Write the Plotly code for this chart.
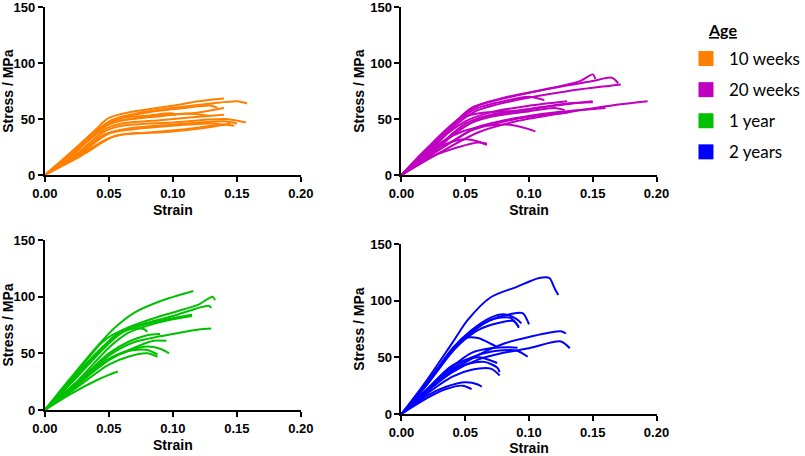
import plotly.graph_objects as go

# Stress-strain curves per age group: one list of knots per specimen
wk10_strain = [
    [0, 0.02, 0.04, 0.05, 0.07, 0.10, 0.12, 0.14],
    [0, 0.02, 0.04, 0.052, 0.075, 0.10, 0.13, 0.15, 0.158],
    [0, 0.02, 0.042, 0.055, 0.08, 0.11, 0.13, 0.135],
    [0, 0.02, 0.045, 0.06, 0.085, 0.11, 0.128],
    [0, 0.02, 0.045, 0.06, 0.08, 0.10, 0.102],
    [0, 0.022, 0.045, 0.06, 0.10, 0.14, 0.157],
    [0, 0.022, 0.046, 0.062, 0.10, 0.14, 0.15],
    [0, 0.025, 0.05, 0.07, 0.10, 0.13, 0.148],
    [0, 0.028, 0.055, 0.08, 0.11, 0.13, 0.14],
    [0, 0.03, 0.05, 0.06, 0.10, 0.13, 0.145],
    [0, 0.02, 0.04, 0.05, 0.08, 0.12, 0.14],
    [0, 0.02, 0.045, 0.06, 0.09, 0.12, 0.14],
]
wk10_stress = [
    [0, 19, 41, 51, 57, 62, 66, 68.5],
    [0, 18, 39, 49, 56, 60, 64, 66, 64],
    [0, 17, 40, 50, 56, 60, 62, 60],
    [0, 16, 42, 49, 52, 55, 53],
    [0, 17, 43, 51, 53, 55, 53],
    [0, 16, 38, 44, 47, 50, 47],
    [0, 15, 36, 41, 45, 48, 46],
    [0, 17, 37, 41, 44, 46, 44],
    [0, 17, 35, 38, 41, 44, 45],
    [0, 20, 33, 36, 39, 43, 46],
    [0, 20, 40, 46, 52, 56, 60],
    [0, 18, 40, 46, 49, 52, 54],
]

wk20_strain = [
    [0, 0.02, 0.04, 0.055, 0.08, 0.11, 0.14, 0.15, 0.152],
    [0, 0.02, 0.045, 0.06, 0.09, 0.12, 0.15, 0.165, 0.17],
    [0, 0.02, 0.045, 0.06, 0.09, 0.13, 0.165, 0.172],
    [0, 0.02, 0.045, 0.06, 0.08, 0.10, 0.112],
    [0, 0.025, 0.05, 0.07, 0.10, 0.13, 0.15],
    [0, 0.025, 0.05, 0.07, 0.10, 0.12, 0.128],
    [0, 0.03, 0.06, 0.09, 0.13, 0.17, 0.193],
    [0, 0.03, 0.06, 0.09, 0.12, 0.16],
    [0, 0.02, 0.04, 0.06, 0.085, 0.10, 0.105],
    [0, 0.02, 0.035, 0.05, 0.06, 0.067],
    [0, 0.025, 0.045, 0.06, 0.067],
    [0, 0.02, 0.045, 0.06, 0.08, 0.10],
    [0, 0.03, 0.06, 0.09, 0.12, 0.15],
    [0, 0.02, 0.04, 0.055, 0.07, 0.10, 0.13],
    [0, 0.015, 0.03, 0.05, 0.07, 0.10, 0.13],
]
wk20_stress = [
    [0, 22, 45, 60, 69, 76, 84, 90, 86],
    [0, 20, 50, 62, 71, 78, 84, 87, 82],
    [0, 19, 47, 58, 67, 75, 80, 81],
    [0, 20, 49, 60, 66, 70, 67],
    [0, 22, 46, 54, 59, 64, 65],
    [0, 21, 44, 52, 57, 60, 58],
    [0, 20, 38, 48, 56, 63, 66],
    [0, 23, 43, 51, 56, 60],
    [0, 20, 35, 43, 45, 41, 39],
    [0, 19, 28, 32, 30, 27],
    [0, 17, 25, 29, 28],
    [0, 24, 50, 55, 57, 57],
    [0, 27, 50, 57, 62, 66],
    [0, 16, 30, 40, 45, 52, 56],
    [0, 18, 32, 48, 56, 62, 66],
]

yr1_strain = [
    [0, 0.02, 0.04, 0.055, 0.07, 0.09, 0.116],
    [0, 0.02, 0.04, 0.06, 0.08, 0.10, 0.12, 0.131, 0.133],
    [0, 0.02, 0.045, 0.06, 0.08, 0.10, 0.128, 0.13],
    [0, 0.02, 0.045, 0.06, 0.08, 0.10, 0.115],
    [0, 0.025, 0.05, 0.065, 0.085, 0.10, 0.115],
    [0, 0.02, 0.045, 0.06, 0.07, 0.078, 0.08],
    [0, 0.025, 0.05, 0.07, 0.09, 0.10, 0.12, 0.13],
    [0, 0.025, 0.05, 0.065, 0.08, 0.09],
    [0, 0.025, 0.05, 0.07, 0.085, 0.095],
    [0, 0.025, 0.05, 0.065, 0.08, 0.09, 0.097],
    [0, 0.02, 0.045, 0.065, 0.08, 0.088],
    [0, 0.025, 0.05, 0.065, 0.08, 0.088],
    [0, 0.02, 0.04, 0.05, 0.057],
]
yr1_stress = [
    [0, 28, 55, 73, 86, 96, 105],
    [0, 25, 50, 70, 79, 86, 93, 100, 97],
    [0, 24, 55, 70, 77, 83, 92, 90],
    [0, 23, 53, 68, 76, 81, 84],
    [0, 25, 55, 68, 76, 80, 83],
    [0, 26, 60, 70, 72, 71, 69],
    [0, 22, 48, 60, 65, 67, 71, 72],
    [0, 24, 50, 60, 66, 67],
    [0, 22, 45, 55, 61, 61],
    [0, 22, 44, 52, 56, 54, 50],
    [0, 20, 42, 52, 53, 49],
    [0, 20, 40, 47, 50, 47],
    [0, 14, 26, 31, 34],
]

yr2_strain = [
    [0, 0.02, 0.04, 0.052, 0.07, 0.09, 0.108, 0.116, 0.12, 0.123],
    [0, 0.02, 0.04, 0.055, 0.07, 0.085, 0.095, 0.10],
    [0, 0.02, 0.04, 0.055, 0.07, 0.08, 0.09, 0.094],
    [0, 0.02, 0.04, 0.055, 0.07, 0.085, 0.092],
    [0, 0.02, 0.04, 0.06, 0.075, 0.088, 0.092],
    [0, 0.02, 0.04, 0.05, 0.06, 0.07, 0.075],
    [0, 0.02, 0.04, 0.06, 0.08, 0.10, 0.125, 0.129],
    [0, 0.02, 0.04, 0.06, 0.08, 0.10, 0.125, 0.132],
    [0, 0.02, 0.04, 0.055, 0.07, 0.085, 0.091],
    [0, 0.02, 0.04, 0.055, 0.07, 0.09, 0.099],
    [0, 0.02, 0.04, 0.055, 0.065, 0.075, 0.077],
    [0, 0.02, 0.04, 0.055, 0.07, 0.077],
    [0, 0.02, 0.035, 0.05, 0.06, 0.063],
    [0, 0.02, 0.035, 0.048, 0.055],
    [0, 0.02, 0.04, 0.06, 0.075],
]
yr2_stress = [
    [0, 30, 63, 83, 103, 112, 120, 120, 111, 105],
    [0, 28, 57, 73, 83, 88, 89, 79],
    [0, 27, 58, 74, 85, 88, 84, 80],
    [0, 26, 55, 72, 83, 85, 77],
    [0, 26, 56, 74, 80, 82, 76],
    [0, 27, 57, 67, 67, 62, 59],
    [0, 20, 38, 52, 62, 68, 73, 71],
    [0, 20, 37, 48, 54, 58, 64, 58],
    [0, 21, 42, 54, 58, 59, 58.5],
    [0, 20, 40, 50, 55, 56, 50.5],
    [0, 20, 39, 45, 46, 41, 37],
    [0, 18, 33, 39, 40, 34],
    [0, 16, 24, 28, 26, 24],
    [0, 14, 22, 25, 22],
    [0, 22, 43, 50, 45],
]

groups = ["10 weeks", "20 weeks", "1 year", "2 years"]
colors = ["#FF8000", "#C000C0", "#00C000", "#0000FF"]
strains = [wk10_strain, wk20_strain, yr1_strain, yr2_strain]
stresses = [wk10_stress, wk20_stress, yr1_stress, yr2_stress]

# panel boxes in paper coords
domains = [
    ([0.0559, 0.3752], [0.6162, 0.984]),
    ([0.5006, 0.8186], [0.6162, 0.984]),
    ([0.0559, 0.3752], [0.1009, 0.4737]),
    ([0.5006, 0.8186], [0.0921, 0.4649]),
]

fig = go.Figure()
bold = dict(family="Arial", size=13, color="black", weight="bold")
title_font = dict(family="Arial", size=14, color="black", weight="bold")

for i in range(4):
    xa = "x" if i == 0 else f"x{i+1}"
    ya = "y" if i == 0 else f"y{i+1}"
    for sx, sy in zip(strains[i], stresses[i]):
        fig.add_trace(go.Scatter(
            x=sx, y=sy, mode="lines", line=dict(color=colors[i], width=2, shape="spline", smoothing=0.8),
            xaxis=xa, yaxis=ya, showlegend=False, hoverinfo="skip"))
    ax = dict(domain=domains[i][0], range=[0, 0.2], tickvals=[0, 0.05, 0.1, 0.15, 0.2],
              ticktext=["0.00", "0.05", "0.10", "0.15", "0.20"], showline=True, linecolor="black",
              linewidth=2, ticks="outside", ticklen=5, tickwidth=2, tickcolor="black", showgrid=False,
              zeroline=False, tickfont=bold, automargin=False, ticklabeloverflow="allow",
              title=dict(text="Strain", font=title_font, standoff=6), anchor=ya)
    ay = dict(domain=domains[i][1], range=[0, 150], tickvals=[0, 50, 100, 150], showline=True,
              linecolor="black", linewidth=2, ticks="outside", ticklen=5, tickwidth=2, tickcolor="black",
              showgrid=False, zeroline=False, tickfont=bold, automargin=False, ticklabeloverflow="allow",
              title=dict(text="Stress / MPa", font=title_font, standoff=2), anchor=xa)
    fig.update_layout(**{("xaxis" if i == 0 else f"xaxis{i+1}"): ax,
                         ("yaxis" if i == 0 else f"yaxis{i+1}"): ay})

# legend entries as squares
for g, c in zip(groups, colors):
    fig.add_trace(go.Scatter(x=[None], y=[None], mode="markers", name=g, legendgroup=g,
                             marker=dict(symbol="square", size=15, color=c)))

fig.update_layout(
    width=805, height=456, margin=dict(l=0, r=0, t=0, b=0),
    plot_bgcolor="white", paper_bgcolor="white",
    legend=dict(x=0.8516, y=0.9101, xanchor="left", yanchor="top", tracegroupgap=6, itemwidth=36,
                font=dict(family="Lato", size=17, color="black")),
)
fig.add_annotation(text="<b><u>Age</u></b>", x=725 / 805, y=1 - 30 / 456, xref="paper", yref="paper",
                   xanchor="center", yanchor="middle", showarrow=False,
                   font=dict(family="Lato", size=16, color="black"))

fig.write_html("out.html", config={"displayModeBar": False},
               post_script="document.body.style.margin='0';")
